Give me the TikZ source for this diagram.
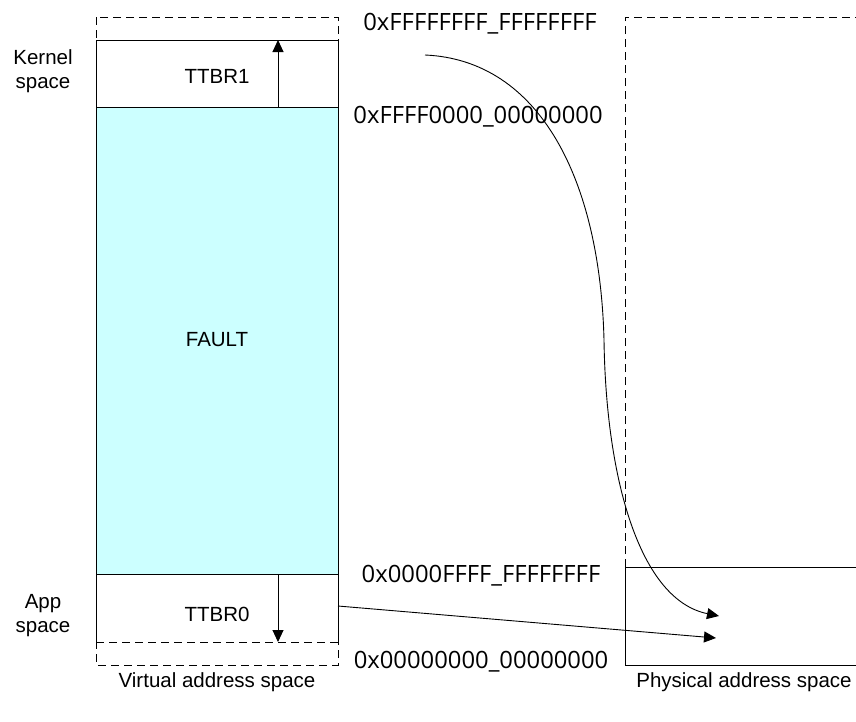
\documentclass[tikz,border=0pt]{standalone}
\usepackage{fontspec}
\setmainfont{Liberation Sans}
\newfontfamily\hexfont{Open Sans}
\usetikzlibrary{arrows.meta}
\definecolor{faultcyan}{RGB}{204,255,255}
\begin{document}
\begin{tikzpicture}[x=1pt,y=-1pt,
  lbl/.style={font=\fontsize{20.5}{24}\selectfont, inner sep=0pt, align=center},
  hexlbl/.style={font=\hexfont\fontsize{23.8}{28}\selectfont, inner sep=0pt, anchor=base},
  dashline/.style={draw, dash pattern=on 8pt off 5pt, line width=0.8pt},
  solidline/.style={draw, line width=0.9pt},
  arr/.style={-{Triangle[length=12pt,width=11pt]}, line width=1pt}
]
\useasboundingbox (0,0) rectangle (856,721);
% virtual address space
\fill[faultcyan] (96,107) rectangle (338,574);
\draw[dashline] (96,17) rectangle (338,665);
\draw[dashline] (96,642) -- (338,642);
\node[solidline, minimum width=242pt, minimum height=67pt, anchor=north west, inner sep=0pt] (ttbr1box) at (96,40) {};
\draw[solidline] (96,642) -- (96,574) -- (338,574) -- (338,642);
\draw[solidline] (96,107) -- (96,574);
\draw[solidline] (338,107) -- (338,574);
\node[lbl] (ttbr1) at (217,76) {TTBR1};
\node[lbl] (ttbr0) at (217,614) {TTBR0};
\node[lbl] (fault) at (217,340) {FAULT};
\coordinate (t1s) at (278,107);
\coordinate (t1e) at (278,40);
\coordinate (t0s) at (278,574);
\coordinate (t0e) at (278,642);
\draw[arr] (t1s) -- (t1e);
\draw[arr] (t0s) -- (t0e);
\node[lbl] (kern) at (43,71) {Kernel\\space};
\node[lbl] (app) at (43,616) {App\\space};
\node[lbl, anchor=base] (vas) at (217,687) {Virtual address space};
% hex labels
\node[hexlbl] (h1) at (480,30) {0xFFFFFFFF\_FFFFFFFF};
\node[hexlbl] (h2) at (478,123) {0xFFFF0000\_00000000};
\node[hexlbl] (h3) at (481,582) {0x0000FFFF\_FFFFFFFF};
\node[hexlbl] (h4) at (481,668) {0x00000000\_00000000};
% physical address space
\draw[dashline] (625,567) -- (625,17) -- (860,17);
\draw[solidline] (860,567) -- (625,567) -- (625,665) -- (860,665);
\node[lbl, anchor=base] (pas) at (744,687) {Physical address space};
% mapping arrows
\coordinate (cs) at (425,55);
\coordinate (cm) at (604,340);
\coordinate (ce) at (719,616);
\draw[arr, line width=0.9pt] (cs) .. controls (540,60) and (600,180) .. (cm) .. controls (606,480) and (640,600) .. (ce);
\coordinate (ls) at (338,606);
\coordinate (le) at (716,638);
\draw[arr, line width=0.9pt] (ls) -- (le);
\end{tikzpicture}
\end{document}
